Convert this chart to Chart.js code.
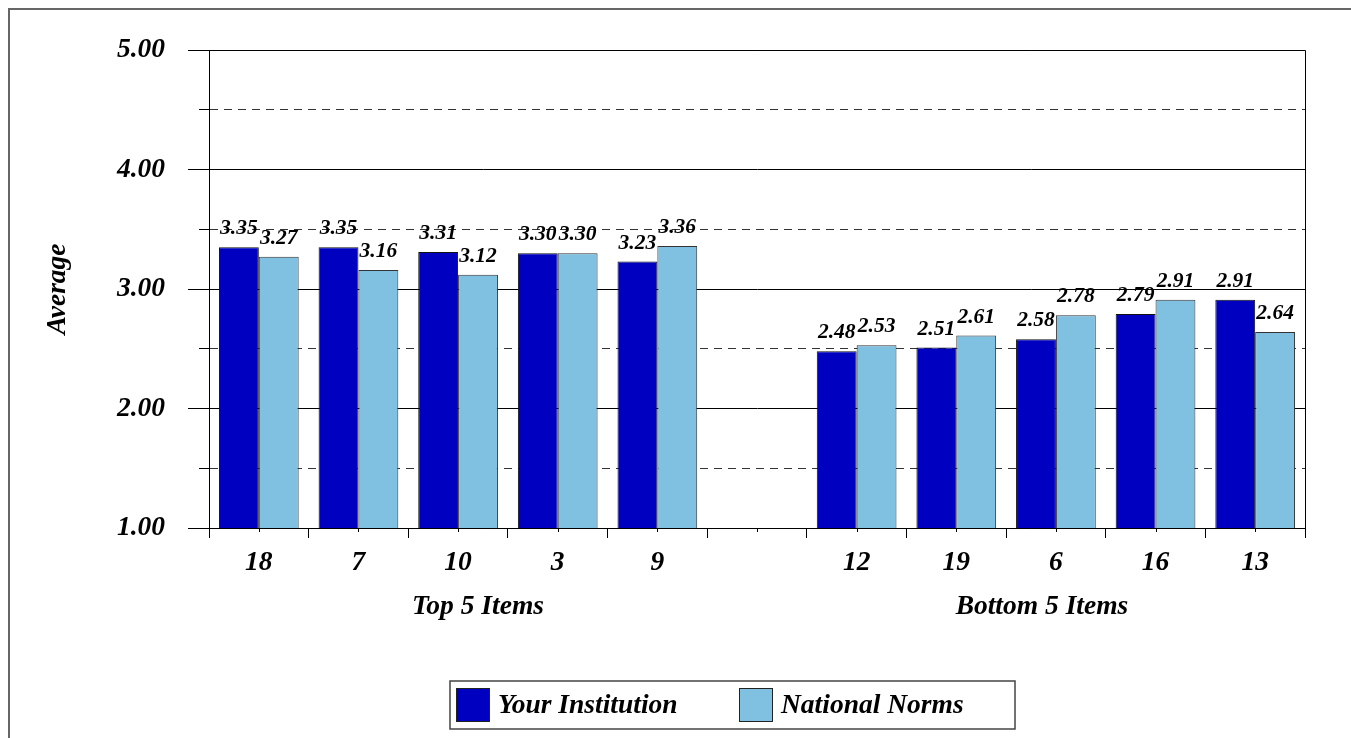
<!DOCTYPE html>
<html>
<head>
<meta charset="utf-8">
<script src="https://cdn.jsdelivr.net/npm/chart.js@4"></script>
<style>
  body { margin: 0; background: #fff; }
  canvas { display: block; }
</style>
</head>
<body>
<canvas id="myChart" width="1351" height="738"></canvas>
<script>
// item numbers on the x axis (blank slot separates the two groups)
const itemLabels = ["18", "7", "10", "3", "9", "", "12", "19", "6", "16", "13"];
const institutionValues = [3.35, 3.35, 3.31, 3.30, 3.23, null, 2.48, 2.51, 2.58, 2.79, 2.91];
const normsValues = [3.27, 3.16, 3.12, 3.30, 3.36, null, 2.53, 2.61, 2.78, 2.91, 2.64];
const groupLabels = ["Top 5 Items", "Bottom 5 Items"];
const seriesNames = ["Your Institution", "National Norms"];
const yTickValues = [1, 2, 3, 4, 5];

const FONT = "'Liberation Serif', 'Times New Roman', serif";
const DARK = "#0000C0";
const LIGHT = "#80C0E0";
const BIG = 27.5;

// value labels above each bar
const valueLabels = {
    id: "valueLabels",
    afterDatasetsDraw(chart) {
        const ctx = chart.ctx;
        ctx.save();
        ctx.font = "italic bold 21.5px " + FONT;
        ctx.fillStyle = "#000";
        ctx.textAlign = "center";
        ctx.textBaseline = "alphabetic";
        chart.data.datasets.forEach((ds, i) => {
            chart.getDatasetMeta(i).data.forEach((bar, j) => {
                const v = ds.data[j];
                if (v == null) return;
                ctx.fillText(v.toFixed(2), bar.x, bar.y - 13);
            });
        });
        ctx.restore();
    }
};

// plot frame, outer border, group captions and the boxed legend
const decorations = {
    id: "decorations",
    afterDraw(chart) {
        const ctx = chart.ctx;
        const area = chart.chartArea;
        const x = chart.scales.x;
        ctx.save();

        // outer border (top + left, picture is cropped on the other sides)
        ctx.strokeStyle = "#666";
        ctx.lineWidth = 2;
        ctx.beginPath();
        ctx.moveTo(9, 738);
        ctx.lineTo(9, 9);
        ctx.lineTo(1351, 9);
        ctx.stroke();

        // top and right edges of the plot
        ctx.strokeStyle = "#000";
        ctx.lineWidth = 1;
        ctx.beginPath();
        ctx.moveTo(area.left, area.top + 0.5);
        ctx.lineTo(area.right + 0.5, area.top + 0.5);
        ctx.lineTo(area.right + 0.5, area.bottom);
        ctx.stroke();

        // short ticks at category centres
        ctx.beginPath();
        itemLabels.forEach((_, i) => {
            const px = Math.round(x.getPixelForTick(i)) + 0.5;
            ctx.moveTo(px, area.bottom);
            ctx.lineTo(px, area.bottom + 4);
        });
        ctx.stroke();

        // group captions
        ctx.font = "italic bold " + BIG + "px " + FONT;
        ctx.fillStyle = "#000";
        ctx.textAlign = "center";
        ctx.textBaseline = "middle";
        ctx.fillText(groupLabels[0], x.getPixelForValue(2.2), 607);
        ctx.fillText(groupLabels[1], x.getPixelForValue(7.86), 607);

        // legend
        const lx = 450, ly = 681, lw = 565, lh = 48;
        ctx.strokeStyle = "#444";
        ctx.lineWidth = 1.5;
        ctx.strokeRect(lx, ly, lw, lh);
        const entries = [
            {swatch: 456, text: 498},
            {swatch: 739, text: 781}
        ];
        chart.data.datasets.forEach((ds, i) => {
            const e = entries[i];
            ctx.fillStyle = ds.backgroundColor;
            ctx.fillRect(e.swatch, ly + 7, 34, 34);
            ctx.strokeStyle = "#222";
            ctx.lineWidth = 1;
            ctx.strokeRect(e.swatch + 0.5, ly + 7.5, 33, 33);
            ctx.fillStyle = "#000";
            ctx.textAlign = "left";
            ctx.fillText(ds.label, e.text, ly + lh / 2 + 1);
        });

        ctx.restore();
    }
};

Chart.defaults.font.family = FONT;

const ctx = document.getElementById("myChart").getContext("2d");
const myChart = new Chart(ctx, {
    type: "bar",
    data: {
        labels: itemLabels,
        datasets: [
            {
                label: seriesNames[0],
                data: institutionValues,
                backgroundColor: DARK,
                borderColor: "#111",
                borderWidth: 1,
                categoryPercentage: 0.8,
                barPercentage: 1.0,
            },
            {
                label: seriesNames[1],
                data: normsValues,
                backgroundColor: LIGHT,
                borderColor: "#333",
                borderWidth: 1,
                categoryPercentage: 0.8,
                barPercentage: 1.0,
            }
        ]
    },
    options: {
        responsive: false,
        animation: false,
        layout: {
            padding: {left: 0, right: 46, top: 50, bottom: 0}
        },
        plugins: {
            legend: {display: false},
            tooltip: {enabled: false},
        },
        scales: {
            x: {
                offset: true,
                afterFit: scale => { scale.height = 210; },
                grid: {
                    offset: true,
                    drawOnChartArea: false,
                    drawTicks: true,
                    tickLength: 10,
                    tickColor: "#000",
                },
                border: {display: true, color: "#000", width: 1},
                ticks: {
                    autoSkip: false,
                    maxRotation: 0,
                    padding: 8,
                    color: "#000",
                    font: {size: BIG, style: "italic", weight: "bold"},
                },
            },
            y: {
                min: 1,
                max: 5,
                afterFit: scale => { scale.width = 209; },
                grid: {
                    color: ctx => ctx.tick && ctx.tick.value % 1 ? "#333" : "#000",
                    lineWidth: 1,
                    tickLength: 21,
                    tickColor: "#000",
                    tickBorderDash: ctx => ctx.tick && ctx.tick.value % 1 ? [0, 11, 10, 0] : [],
                },
                border: {
                    display: true,
                    color: "#000",
                    width: 1,
                    dash: ctx => ctx.tick && ctx.tick.value % 1 ? [8, 6] : [],
                },
                ticks: {
                    stepSize: 0.5,
                    padding: 23,
                    color: "#000",
                    font: {size: BIG, style: "italic", weight: "bold"},
                    callback: value => yTickValues.includes(value) ? value.toFixed(2) : "",
                },
                title: {
                    display: true,
                    text: "Average",
                    color: "#000",
                    padding: {top: 41, bottom: 0},
                    font: {size: BIG, style: "italic", weight: "bold"},
                },
            },
        },
    },
    plugins: [valueLabels, decorations],
});
</script>
</body>
</html>
